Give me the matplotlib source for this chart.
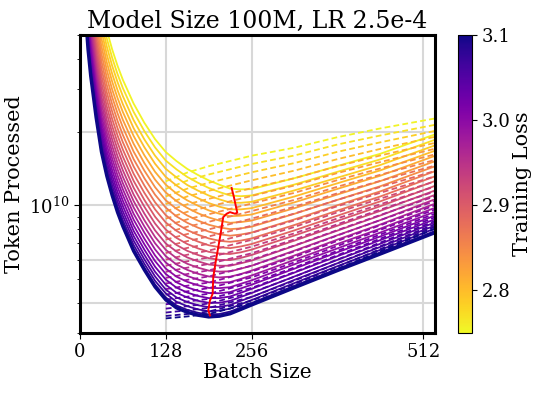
import numpy as np
import matplotlib.pyplot as plt
from matplotlib.colors import Normalize
from matplotlib.cm import ScalarMappable
from matplotlib.ticker import LogLocator, NullFormatter

plt.rcParams['font.family'] = ['DejaVu Serif']
plt.rcParams['mathtext.fontset'] = 'dejavuserif'

# 数据：每条曲线对应一个训练损失
loss_levels = [3.100, 3.085, 3.070, 3.055, 3.040, 3.025, 3.010, 2.995,
               2.980, 2.965, 2.950, 2.935, 2.920, 2.905, 2.890, 2.875,
               2.860, 2.845, 2.830, 2.815, 2.800, 2.785, 2.770, 2.755]

# 拟合曲线 (实线) 的 batch size
batch_fit = [8, 12, 16, 24, 32, 40, 48, 56, 64, 80, 96, 112, 128, 144, 160,
             176, 192, 208, 224, 240, 256, 320, 384, 448, 530]

# log10(tokens)，每行一个 loss
fit_log_tokens = [
    [10.790, 10.640, 10.531, 10.362, 10.220, 10.121, 10.041, 9.972, 9.914, 9.813, 9.736, 9.666, 9.613, 9.580, 9.562, 9.550, 9.543, 9.546, 9.556, 9.574, 9.592, 9.663, 9.733, 9.801, 9.889],
    [10.801, 10.650, 10.541, 10.372, 10.230, 10.131, 10.051, 9.982, 9.924, 9.823, 9.746, 9.676, 9.623, 9.590, 9.572, 9.560, 9.553, 9.555, 9.565, 9.582, 9.600, 9.671, 9.740, 9.808, 9.896],
    [10.816, 10.665, 10.556, 10.386, 10.245, 10.146, 10.066, 9.997, 9.939, 9.838, 9.761, 9.691, 9.639, 9.605, 9.587, 9.574, 9.566, 9.569, 9.577, 9.595, 9.612, 9.682, 9.751, 9.818, 9.906],
    [10.835, 10.683, 10.573, 10.403, 10.262, 10.163, 10.083, 10.015, 9.957, 9.856, 9.779, 9.709, 9.655, 9.623, 9.604, 9.591, 9.583, 9.584, 9.592, 9.609, 9.625, 9.695, 9.763, 9.830, 9.918],
    [10.855, 10.702, 10.591, 10.422, 10.281, 10.183, 10.103, 10.034, 9.976, 9.875, 9.798, 9.728, 9.675, 9.642, 9.623, 9.609, 9.601, 9.601, 9.609, 9.625, 9.641, 9.709, 9.777, 9.843, 9.931],
    [10.876, 10.723, 10.612, 10.442, 10.302, 10.203, 10.123, 10.055, 9.997, 9.896, 9.819, 9.749, 9.696, 9.663, 9.643, 9.629, 9.620, 9.620, 9.627, 9.642, 9.658, 9.725, 9.792, 9.858, 9.944],
    [10.899, 10.745, 10.633, 10.463, 10.324, 10.225, 10.145, 10.077, 10.019, 9.918, 9.841, 9.772, 9.719, 9.685, 9.664, 9.650, 9.641, 9.640, 9.645, 9.660, 9.675, 9.741, 9.808, 9.873, 9.959],
    [10.924, 10.768, 10.656, 10.485, 10.347, 10.248, 10.169, 10.100, 10.042, 9.942, 9.864, 9.795, 9.741, 9.708, 9.687, 9.673, 9.662, 9.661, 9.665, 9.679, 9.693, 9.759, 9.824, 9.889, 9.975],
    [10.949, 10.793, 10.680, 10.509, 10.371, 10.273, 10.193, 10.124, 10.066, 9.966, 9.889, 9.820, 9.766, 9.733, 9.711, 9.696, 9.685, 9.683, 9.686, 9.699, 9.713, 9.777, 9.842, 9.905, 9.991],
    [10.976, 10.818, 10.704, 10.533, 10.396, 10.298, 10.218, 10.149, 10.091, 9.992, 9.914, 9.845, 9.792, 9.758, 9.736, 9.720, 9.709, 9.705, 9.708, 9.719, 9.733, 9.795, 9.860, 9.922, 10.008],
    [11.003, 10.844, 10.729, 10.558, 10.422, 10.323, 10.244, 10.175, 10.117, 10.018, 9.940, 9.871, 9.818, 9.784, 9.761, 9.745, 9.733, 9.729, 9.730, 9.741, 9.753, 9.815, 9.878, 9.940, 10.026],
    [11.031, 10.871, 10.756, 10.584, 10.448, 10.350, 10.271, 10.202, 10.144, 10.045, 9.967, 9.898, 9.844, 9.811, 9.787, 9.771, 9.758, 9.753, 9.753, 9.763, 9.774, 9.835, 9.897, 9.959, 10.044],
    [11.060, 10.898, 10.783, 10.611, 10.476, 10.378, 10.298, 10.230, 10.172, 10.073, 9.995, 9.926, 9.872, 9.838, 9.814, 9.797, 9.784, 9.777, 9.776, 9.785, 9.797, 9.856, 9.917, 9.978, 10.062],
    [11.089, 10.927, 10.810, 10.638, 10.504, 10.406, 10.326, 10.258, 10.200, 10.101, 10.023, 9.954, 9.901, 9.867, 9.842, 9.824, 9.810, 9.803, 9.801, 9.808, 9.819, 9.877, 9.937, 9.997, 10.081],
    [11.120, 10.956, 10.838, 10.666, 10.533, 10.435, 10.355, 10.287, 10.229, 10.130, 10.052, 9.984, 9.930, 9.896, 9.870, 9.852, 9.837, 9.829, 9.825, 9.832, 9.842, 9.898, 9.958, 10.017, 10.101],
    [11.150, 10.985, 10.867, 10.694, 10.562, 10.464, 10.385, 10.317, 10.259, 10.160, 10.082, 10.013, 9.960, 9.925, 9.899, 9.880, 9.865, 9.855, 9.851, 9.856, 9.865, 9.920, 9.979, 10.037, 10.120],
    [11.182, 11.015, 10.897, 10.723, 10.592, 10.494, 10.415, 10.347, 10.289, 10.190, 10.112, 10.044, 9.991, 9.955, 9.929, 9.909, 9.893, 9.882, 9.876, 9.881, 9.889, 9.943, 10.001, 10.058, 10.141],
    [11.214, 11.046, 10.927, 10.753, 10.622, 10.525, 10.445, 10.378, 10.320, 10.221, 10.143, 10.075, 10.021, 9.986, 9.959, 9.938, 9.921, 9.910, 9.903, 9.906, 9.913, 9.966, 10.023, 10.079, 10.161],
    [11.247, 11.078, 10.957, 10.783, 10.653, 10.556, 10.476, 10.409, 10.351, 10.253, 10.174, 10.106, 10.053, 10.018, 9.990, 9.968, 9.951, 9.938, 9.929, 9.932, 9.938, 9.989, 10.045, 10.100, 10.182],
    [11.280, 11.109, 10.988, 10.814, 10.685, 10.587, 10.508, 10.441, 10.383, 10.285, 10.206, 10.138, 10.085, 10.049, 10.021, 9.999, 9.980, 9.966, 9.956, 9.958, 9.963, 10.013, 10.068, 10.122, 10.204],
    [11.314, 11.142, 11.020, 10.845, 10.717, 10.619, 10.540, 10.473, 10.415, 10.317, 10.239, 10.171, 10.117, 10.082, 10.052, 10.030, 10.010, 9.995, 9.984, 9.984, 9.989, 10.037, 10.091, 10.144, 10.225],
    [11.348, 11.175, 11.052, 10.877, 10.749, 10.652, 10.573, 10.506, 10.448, 10.350, 10.271, 10.204, 10.150, 10.115, 10.084, 10.061, 10.041, 10.025, 10.012, 10.011, 10.015, 10.062, 10.114, 10.166, 10.247],
    [11.383, 11.208, 11.084, 10.909, 10.782, 10.685, 10.606, 10.539, 10.481, 10.384, 10.305, 10.238, 10.184, 10.148, 10.117, 10.093, 10.072, 10.055, 10.041, 10.038, 10.041, 10.086, 10.138, 10.189, 10.270],
    [11.418, 11.242, 11.117, 10.941, 10.816, 10.719, 10.640, 10.573, 10.515, 10.418, 10.339, 10.272, 10.219, 10.182, 10.150, 10.125, 10.103, 10.085, 10.069, 10.066, 10.067, 10.112, 10.162, 10.212, 10.292],
]

# 实测曲线 (虚线)
batch_meas = [128, 160, 192, 256, 320, 384, 448, 530]

meas_log_tokens = [
    [9.537, 9.545, 9.555, 9.600, 9.668, 9.740, 9.812, 9.905],
    [9.547, 9.555, 9.565, 9.610, 9.678, 9.749, 9.821, 9.913],
    [9.561, 9.570, 9.580, 9.625, 9.692, 9.763, 9.833, 9.924],
    [9.577, 9.587, 9.598, 9.643, 9.708, 9.778, 9.848, 9.937],
    [9.595, 9.606, 9.617, 9.662, 9.727, 9.796, 9.864, 9.952],
    [9.614, 9.626, 9.638, 9.683, 9.746, 9.814, 9.881, 9.967],
    [9.635, 9.648, 9.661, 9.705, 9.767, 9.834, 9.900, 9.984],
    [9.657, 9.671, 9.684, 9.729, 9.789, 9.855, 9.919, 10.001],
    [9.680, 9.695, 9.709, 9.753, 9.812, 9.877, 9.940, 10.019],
    [9.703, 9.719, 9.734, 9.778, 9.836, 9.899, 9.961, 10.038],
    [9.728, 9.745, 9.760, 9.804, 9.861, 9.923, 9.983, 10.058],
    [9.753, 9.771, 9.787, 9.831, 9.886, 9.947, 10.005, 10.078],
    [9.778, 9.798, 9.815, 9.859, 9.912, 9.972, 10.028, 10.099],
    [9.805, 9.826, 9.843, 9.888, 9.939, 9.997, 10.052, 10.120],
    [9.832, 9.854, 9.873, 9.917, 9.967, 10.023, 10.076, 10.142],
    [9.860, 9.883, 9.902, 9.946, 9.995, 10.050, 10.101, 10.164],
    [9.888, 9.913, 9.933, 9.977, 10.023, 10.077, 10.126, 10.187],
    [9.917, 9.943, 9.964, 10.008, 10.052, 10.104, 10.152, 10.210],
    [9.946, 9.974, 9.995, 10.039, 10.082, 10.133, 10.178, 10.233],
    [9.976, 10.005, 10.027, 10.071, 10.112, 10.161, 10.205, 10.257],
    [10.006, 10.037, 10.060, 10.103, 10.143, 10.190, 10.232, 10.282],
    [10.037, 10.069, 10.093, 10.136, 10.174, 10.220, 10.259, 10.306],
    [10.068, 10.102, 10.127, 10.170, 10.205, 10.250, 10.287, 10.331],
    [10.099, 10.135, 10.161, 10.204, 10.237, 10.280, 10.316, 10.357],
]

# 最优 batch size 轨迹 (红线)，tokens 单位 1e9
opt_batch = [193.9, 191.4, 193.9, 197.9, 198.8, 202.8, 206.3, 209.8,
             211.3, 213.7, 218.8, 223.7, 231.2, 234.6, 229.7, 226.2]
opt_tokens_bn = [3.54, 3.72, 4.08, 4.35, 5.08, 5.96, 6.75, 7.65,
                 8.15, 8.96, 9.25, 9.39, 9.25, 9.34, 10.8, 11.8]

x_ticks = [0, 128, 256, 512]
y_grid = [4e9, 6e9, 1e10, 2e10]
cbar_ticks = [2.8, 2.9, 3.0, 3.1]

fig = plt.figure(figsize=(5.4, 3.96), dpi=100)
ax = fig.add_axes([0.1481, 0.1591, 0.6574, 0.7525])
cax = fig.add_axes([0.848, 0.1591, 0.026, 0.7525])

cmap = plt.get_cmap('plasma_r')
norm = Normalize(vmin=2.75, vmax=3.1)

# 网格线
for xv in x_ticks[1:]:
    ax.axvline(xv, color='#d8d8d8', linewidth=1.5, zorder=0)
for yv in y_grid:
    ax.axhline(yv, color='#d8d8d8', linewidth=1.5, zorder=0)

# 从黄色到蓝色绘制，使蓝色曲线在上层
for i in reversed(range(len(loss_levels))):
    color = cmap(norm(loss_levels[i]))
    lw = 2.4 if i == 0 else 1.3
    ax.plot(batch_fit, 10 ** np.array(fit_log_tokens[i]), color=color,
            linewidth=lw, solid_capstyle='butt')
    ax.plot(batch_meas, 10 ** np.array(meas_log_tokens[i]), color=color,
            linewidth=1.3, linestyle='--', dashes=(3.2, 1.8))

ax.plot(opt_batch, np.array(opt_tokens_bn) * 1e9, color='red', linewidth=1.4)

ax.set_yscale('log')
ax.set_xlim(0, 529.5)
ax.set_ylim(3e9, 5e10)
ax.set_xticks(x_ticks)
ax.yaxis.set_major_locator(LogLocator(base=10))
ax.yaxis.set_minor_locator(LogLocator(base=10, subs=np.arange(2, 10)))
ax.yaxis.set_minor_formatter(NullFormatter())
ax.tick_params(axis='both', which='major', labelsize=13, length=4)
ax.tick_params(axis='y', which='minor', length=2.5)
for spine in ax.spines.values():
    spine.set_linewidth(2.2)

ax.set_xlabel('Batch Size', fontsize=14.5, labelpad=1)
ax.set_ylabel('Token Processed', fontsize=15, labelpad=4)
ax.set_title('Model Size 100M, LR 2.5e-4', fontsize=17, pad=5)

sm = ScalarMappable(norm=norm, cmap=cmap)
cbar = fig.colorbar(sm, cax=cax, ticks=cbar_ticks)
cbar.ax.tick_params(labelsize=13)
cbar.outline.set_linewidth(0.8)
cbar.set_label('Training Loss', fontsize=15, labelpad=2)

fig.savefig('out.png', dpi=100)
plt.close(fig)
